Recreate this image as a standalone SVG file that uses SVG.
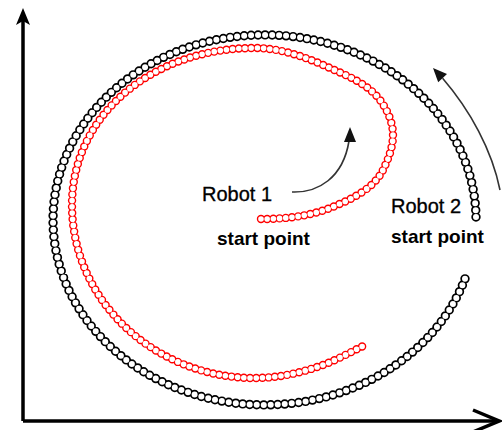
<svg xmlns="http://www.w3.org/2000/svg" width="502" height="430" viewBox="0 0 502 430">
  <style>
    .ring-out { fill: none; stroke-linecap: round; }
    .ring-in { fill: none; stroke: #ffffff; stroke-linecap: round; }
    .blk-out { stroke: #000000; stroke-width: 9.4; stroke-dasharray: 0 7; }
    .blk-in { stroke-width: 6; stroke-dasharray: 0 7; }
    .red-out { stroke: #ff0000; stroke-width: 8.4; stroke-dasharray: 0 6.2; }
    .red-in { stroke-width: 5.6; stroke-dasharray: 0 6.2; }
    .axis { fill: none; stroke: #000000; stroke-width: 3.5; }
    .move { fill: none; stroke: #333333; stroke-width: 1.6; }
    .head { fill: #111111; }
    .title { font-family: "Liberation Sans", Arial, sans-serif; font-size: 20px; fill: #000000; stroke: #000000; stroke-width: 0.3; }
    .sub { font-family: "Liberation Sans", Arial, sans-serif; font-size: 19px; font-weight: bold; fill: #000000; }
  </style>
  <defs>
    <!-- outer trajectory, nearly elliptical, travelled counter-clockwise -->
    <path id="track2" d="M476,217 A211.5,185 0 1 0 465.7,277"/>
    <!-- inner spiral trajectory, from its start point outward -->
    <path id="track1" d="M261,219 C284,219 308.6,216.5 330,208 C350.1,199.9 373.3,189.4 383,170 C388.4,159.2 393,147.1 393,135 C393,122.6 387.4,109.9 380,100 C368.1,84.2 348.1,76.1 330,68 C306.4,57.4 280.9,48 255,48 C152,48 72,115 72,205 C72,300.5 153.9,378 255,378 C277,378 299.2,373.3 320,366 C336.3,360.3 351.5,351.7 367,344"/>
  </defs>

  <g id="axes">
    <line class="axis" x1="23" y1="421" x2="23" y2="20"/>
    <polygon points="23,8 30,25 23,21 16,25" fill="#000000"/>
    <line class="axis" x1="23" y1="421" x2="497" y2="421"/>
    <path class="axis" d="M473,410 L499,421 L473,432"/>
  </g>

  <!-- rings: a dotted dark pass, then a smaller white pass punches the centres -->
  <g id="robot2-track">
    <use href="#track2" class="ring-out blk-out"/>
    <use href="#track2" class="ring-in blk-in"/>
  </g>

  <g id="robot1-track">
    <use href="#track1" class="ring-out red-out"/>
    <use href="#track1" class="ring-in red-in"/>
  </g>

  <g id="connectors">
    <path class="move" d="M292,192 C318,193 343,178 349,141"/>
    <polygon class="head" points="350,127 356,142 344,142"/>
    <path class="move" d="M500,190 C492,150 470,110 442.6,78.2"/>
    <polygon class="head" points="433,68 447,74.1 438.2,82.3"/>
  </g>

  <g id="robot1-label">
    <text class="title" x="202" y="201">Robot 1</text>
    <text class="sub" x="217" y="245">start point</text>
  </g>

  <g id="robot2-label">
    <text class="title" x="391" y="213">Robot 2</text>
    <text class="sub" x="391" y="243">start point</text>
  </g>
</svg>
